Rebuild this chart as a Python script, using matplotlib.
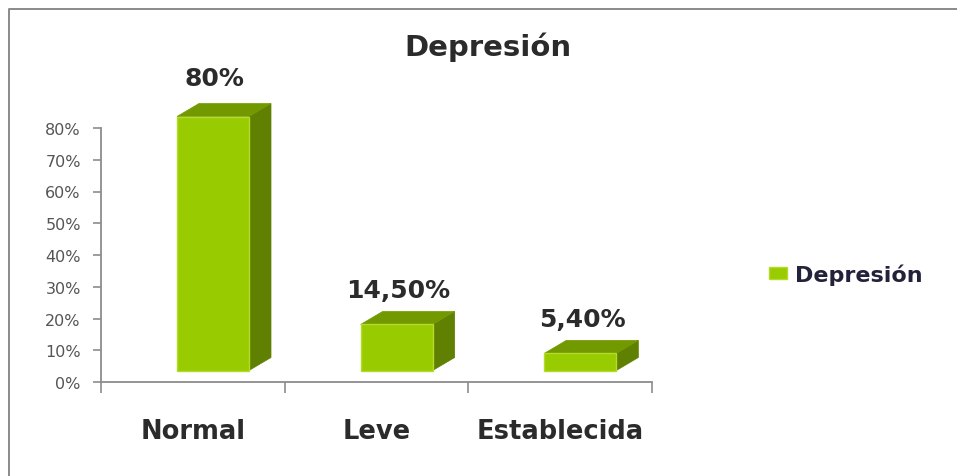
#!/usr/bin/env python3
"""Bar chart with a fake 3D look: Depresion by category."""

import matplotlib

matplotlib.use("Agg")
import matplotlib.pyplot as plt
from matplotlib.patches import Patch, Polygon, Rectangle

categories = ["Normal", "Leve", "Establecida"]
values = [80.0, 14.5, 5.4]
value_labels = ["80%", "14,50%", "5,40%"]
y_ticks = [0, 10, 20, 30, 40, 50, 60, 70, 80]
series_name = "Depresión"

WIDTH, HEIGHT = 957, 477
FRONT = "#99cc00"
TOP = "#729a00"
SIDE = "#5f8000"
EDGE = "#b5d92c"
AXIS = "#8c8c8c"
TEXT = "#2b2b2b"

plt.rcParams["font.family"] = ["DejaVu Sans"]

fig = plt.figure(figsize=(WIDTH / 100, HEIGHT / 100), dpi=100)
ax = fig.add_axes([101 / WIDTH, 1 - 383 / HEIGHT, 551 / WIDTH, 254 / HEIGHT])
ax.set_xlim(0, len(categories))
ax.set_ylim(0, 80)

# pixel sizes of the fake depth, turned into data units
px_x = len(categories) / 551
px_y = 80 / 254
bar_w = 72 * px_x
dx = 22 * px_x
dy = 13 * px_y
floor = 11.5 * px_y
label_gaps = [26, 21, 21]  # px above the top face

for i, value in enumerate(values):
    left = i + 76 * px_x
    right = left + bar_w
    base = floor
    top = floor + value
    ax.add_patch(Polygon([(right, base), (right + dx, base + dy), (right + dx, top + dy), (right, top)],
                         facecolor=SIDE, edgecolor=SIDE, lw=0.5, clip_on=False, zorder=3))
    ax.add_patch(Polygon([(left, top), (left + dx, top + dy), (right + dx, top + dy), (right, top)],
                         facecolor=TOP, edgecolor=TOP, lw=0.5, clip_on=False, zorder=3))
    ax.add_patch(Rectangle((left, base), bar_w, value, facecolor=FRONT, edgecolor=EDGE, lw=1,
                           clip_on=False, zorder=4))
    ax.annotate(value_labels[i], ((left + right) / 2 + 0.01, top + dy), xytext=(0, label_gaps[i] * 0.72),
                textcoords="offset points", ha="center", va="center", fontsize=18, fontweight="bold",
                color=TEXT, annotation_clip=False)

for side in ("top", "right"):
    ax.spines[side].set_visible(False)
for side in ("left", "bottom"):
    ax.spines[side].set_color(AXIS)
    ax.spines[side].set_linewidth(1.3)

ax.set_yticks(y_ticks)
ax.set_yticklabels([f"{t}%" for t in y_ticks], fontsize=11.5, color="#555555")
ax.tick_params(axis="y", length=6, width=1.2, color=AXIS, pad=8.5)

ax.set_xticks(range(len(categories) + 1))
ax.set_xticklabels([])
ax.tick_params(axis="x", which="major", length=8, width=1.2, color=AXIS)
ax.set_xticks([i + 0.5 for i in range(len(categories))], minor=True)
ax.set_xticklabels(categories, minor=True, fontsize=18.5, fontweight="bold", color=TEXT)
ax.tick_params(axis="x", which="minor", length=0, pad=26)

fig.text(488 / WIDTH, 1 - 47 / HEIGHT, series_name, ha="center", va="center",
         fontsize=21, fontweight="bold", color=TEXT)

fig.legend(handles=[Patch(facecolor=FRONT, edgecolor=EDGE, label=series_name)],
           loc="center left", bbox_to_anchor=(769 / WIDTH, 1 - 275 / HEIGHT), frameon=False,
           borderpad=0, borderaxespad=0, prop={"size": 16, "weight": "bold"}, labelcolor="#22223a",
           handlelength=0.8, handleheight=0.5, handletextpad=0.36)

# outer frame: only top and left show up in the picture
fig.add_artist(plt.Line2D([8.5 / WIDTH, 8.5 / WIDTH, 1], [0, 1 - 10 / HEIGHT, 1 - 10 / HEIGHT],
                          color="#8a8a8a", lw=1.4))

fig.savefig("out.png", dpi=100)
